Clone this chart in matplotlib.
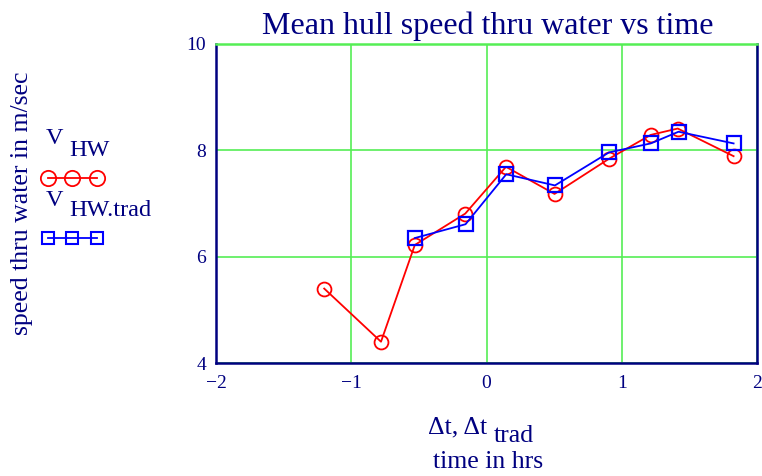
import matplotlib
matplotlib.use("Agg")
import matplotlib.pyplot as plt
from matplotlib.lines import Line2D

# data
dt = [-1.20, -0.78, -0.53, -0.157, 0.144, 0.503, 0.905, 1.214, 1.414, 1.827]
v_hw = [5.40, 4.40, 6.22, 6.81, 7.69, 7.18, 7.84, 8.29, 8.41, 7.89]

dt_trad = [-0.53, -0.155, 0.146, 0.506, 0.905, 1.214, 1.42, 1.827]
v_hw_trad = [6.35, 6.61, 7.55, 7.34, 7.96, 8.13, 8.35, 8.13]

xticks = [-2, -1, 0, 1, 2]
yticks = [4, 6, 8, 10]

navy = "#000080"
serif = ["Liberation Serif", "DejaVu Serif"]
plt.rcParams['font.family'] = serif

fig = plt.figure(figsize=(7.62, 4.76), dpi=100)
ax = fig.add_axes([216 / 762, 1 - 363 / 476, 541 / 762, 319 / 476])

ax.plot(dt, v_hw, color="red", lw=1.3, marker="o", ms=10,
        mfc="none", mec="red", mew=1.3, zorder=3)
ax.plot(dt_trad, v_hw_trad, color="blue", lw=1.3, marker="s", ms=9.5,
        mfc="none", mec="blue", mew=1.6, zorder=4)

ax.set_xlim(-2, 2)
ax.set_ylim(4, 10)
ax.set_xticks(xticks)
ax.set_yticks(yticks)
ax.set_xticklabels(["\u22122", "\u22121", "0", "1", "2"])
ax.grid(True, color="#55ee55", lw=1.2)
ax.tick_params(length=0, colors=navy, labelsize=14)
ax.tick_params(axis="x", pad=9)
ax.tick_params(axis="y", pad=7)
for s in ax.spines.values():
    s.set_color(navy)
    s.set_linewidth(1.8)
ax.spines['top'].set_color("#55ee55")

# title and axis labels
fig.text(488 / 762, 1 - 26 / 476, "Mean hull speed thru water vs time",
         ha="center", va="center", fontsize=23, color=navy)
fig.text(22 / 762, 1 - 203 / 476, "speed thru water in m/sec", rotation=90,
         ha="center", va="center", fontsize=18.5, color=navy)
fig.text(487 / 762, 1 - 427 / 476, "\u0394t, \u0394t", ha="right", va="center",
         fontsize=18.5, color=navy)
fig.text(494 / 762, 1 - 436 / 476, "trad", ha="left", va="center",
         fontsize=18.5, color=navy)
fig.text(488 / 762, 1 - 462 / 476, "time in hrs", ha="center", va="center",
         fontsize=18.5, color=navy)

# legend (Mathcad style)
fig.text(46 / 762, 1 - 138 / 476, "V", ha="left", va="center", fontsize=17.5, color=navy)
fig.text(69 / 762, 1 - 150 / 476, "HW", ha="left", va="center", fontsize=17.5, color=navy)
fig.text(46 / 762, 1 - 200 / 476, "V", ha="left", va="center", fontsize=17.5, color=navy)
fig.text(69 / 762, 1 - 211 / 476, "HW.trad", ha="left", va="center", fontsize=17.5, color=navy)

fig.add_artist(Line2D([48 / 762, 72 / 762, 97 / 762], [1 - 178 / 476] * 3,
                      transform=fig.transFigure, color="red", lw=1.3,
                      marker="o", ms=11, mfc="none", mec="red", mew=1.3))
fig.add_artist(Line2D([48 / 762, 72 / 762, 97 / 762], [1 - 238 / 476] * 3,
                      transform=fig.transFigure, color="blue", lw=1.3,
                      marker="s", ms=9, mfc="none", mec="blue", mew=1.5))

fig.savefig("out.png", dpi=100)
